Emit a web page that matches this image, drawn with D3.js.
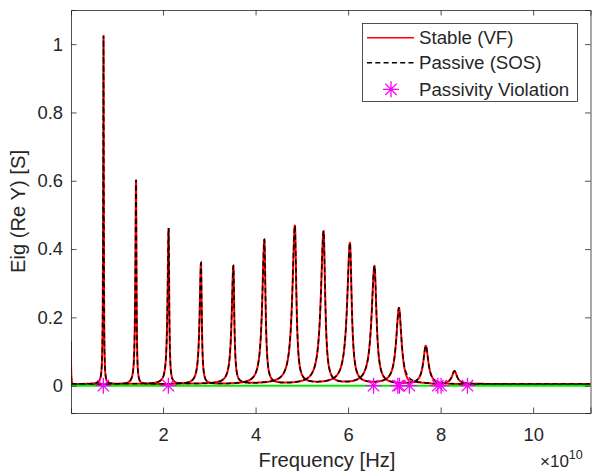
<!DOCTYPE html>
<html><head><meta charset="utf-8">
<script src="https://cdn.jsdelivr.net/npm/d3@7"></script>
<style>
body{margin:0;background:#fff}
svg{display:block}
text{font-family:"Liberation Sans",Arial,Helvetica,sans-serif;fill:#262626}
</style>
</head><body>
<svg id="chart" width="594" height="472"></svg>
<script>
// ---------------- data ----------------
const xTickValues = [2e10, 4e10, 6e10, 8e10, 10e10];
const xTickLabels = ["2", "4", "6", "8", "10"];
const yTickValues = [0, 0.2, 0.4, 0.6, 0.8, 1];
const yTickLabels = ["0", "0.2", "0.4", "0.6", "0.8", "1"];

// resonance peaks of the eigenvalues (frequency in units of 1e10 Hz)
const peakFreq       = [0.005, 0.713, 1.416, 2.12, 2.82, 3.52, 4.19, 4.85, 5.47, 6.04, 6.57, 7.10, 7.68, 8.30];
const peakHeight     = [0.13, 1.025, 0.602, 0.461, 0.358, 0.349, 0.426, 0.467, 0.451, 0.417, 0.35, 0.227, 0.116, 0.042];
const peakWidthLeft  = [0.01, 0.009, 0.017, 0.026, 0.035, 0.043, 0.054, 0.065, 0.069, 0.071, 0.074, 0.071, 0.065, 0.065];
const peakWidthRight = [0.006, 0.007, 0.011, 0.015, 0.02, 0.024, 0.03, 0.037, 0.041, 0.045, 0.052, 0.065, 0.065, 0.065];
const peakEig        = [1, 0, 1, 0, 1, 0, 1, 0, 1, 0, 1, 0, 1, 0];
const eigBase        = [0.0045, 0.0035];

// small negative excursions of the stable (VF) model
const dipFreq  = [7.30, 7.95];
const dipDepth = [-0.009, -0.008];
const dipWidth = [0.12, 0.10];

// passivity violation markers
const violFreq  = [0.709, 2.115, 6.55, 7.075, 7.11, 7.325, 7.94, 8.01, 8.58];
const violValue = [0, 0, 0, 0, 0, 0, 0, 0, 0];

const xDomain = [0.01e10, 11.24e10];
const yDomain = [-0.08, 1.1];

// ---------------- layout ----------------
const L = 71, R = 590.5, T = 10, B = 413;
const svg = d3.select("#chart");
const x = d3.scaleLinear().domain(xDomain).range([L, R]);
const y = d3.scaleLinear().domain(yDomain).range([B, T]);

svg.append("defs").append("clipPath").attr("id", "clip")
  .append("rect").attr("x", L).attr("y", T).attr("width", R - L).attr("height", B - T);

// frequency grid: uniform + dense around each peak
let grid = d3.range(0, 6001).map(i => xDomain[0] / 1e10 + (xDomain[1] - xDomain[0]) / 1e10 * i / 6000);
peakFreq.forEach((f, i) => {
  for (let k = -60; k <= 60; k++) {
    const w = k < 0 ? peakWidthLeft[i] : peakWidthRight[i];
    grid.push(f + k * w * 0.15);
  }
});
grid = Array.from(new Set(grid.filter(f => f >= 0).map(f => +f.toFixed(6)))).sort((a, b) => a - b);

function eigValue(e, f, withDips) {
  let v = eigBase[e];
  peakFreq.forEach((f0, i) => {
    if (peakEig[i] !== e) return;
    const g = f < f0 ? peakWidthLeft[i] : peakWidthRight[i];
    const d = (f - f0) / g;
    v += (peakHeight[i] - eigBase[e]) / (1 + d * d);
  });
  if (withDips) {
    dipFreq.forEach((f0, i) => {
      const d = (f - f0) / dipWidth[i];
      v += dipDepth[i] * Math.exp(-d * d);
    });
  }
  return v;
}

const line = d3.line().x(d => x(d[0] * 1e10)).y(d => y(d[1]));
const plot = svg.append("g").attr("clip-path", "url(#clip)");

// stable (VF) – red
[0, 1].forEach(e => {
  plot.append("path")
    .datum(grid.map(f => [f, eigValue(e, f, e === 0)]))
    .attr("d", line).attr("fill", "none")
    .attr("stroke", "#ff0000").attr("stroke-width", 2);
});
// passive (SOS) – black dashed
[0, 1].forEach(e => {
  plot.append("path")
    .datum(grid.map(f => [f, eigValue(e, f, false)]))
    .attr("d", line).attr("fill", "none")
    .attr("stroke", "#000").attr("stroke-width", 1.5)
    .attr("stroke-dasharray", "5,3.3");
});
// zero reference – green
plot.append("path")
  .datum([[xDomain[0] / 1e10, 0], [xDomain[1] / 1e10, 0]])
  .attr("d", line).attr("fill", "none")
  .attr("stroke", "#00ee00").attr("stroke-width", 2);

// violation markers
const star = "M0,-8V8M-8,0H8M-5.7,-5.7L5.7,5.7M-5.7,5.7L5.7,-5.7";
svg.append("g").selectAll("path").data(violFreq).join("path")
  .attr("transform", (d, i) => `translate(${x(d * 1e10)},${y(violValue[i])})`)
  .attr("d", star).attr("fill", "none")
  .attr("stroke", "#ff00ff").attr("stroke-width", 1.3);

// ---------------- axes ----------------
const tickLen = 5.5;
const axisColor = "#262626";
const xAxisB = d3.axisBottom(x).tickValues(xTickValues).tickFormat((d, i) => xTickLabels[i]).tickSize(-tickLen).tickPadding(15);
const xAxisT = d3.axisTop(x).tickValues(xTickValues).tickFormat("").tickSize(-tickLen);
const yAxisL = d3.axisLeft(y).tickValues(yTickValues).tickFormat((d, i) => yTickLabels[i]).tickSize(-tickLen).tickPadding(8);
const yAxisR = d3.axisRight(y).tickValues(yTickValues).tickFormat("").tickSize(-tickLen);

function styleAxis(g) {
  g.select(".domain").attr("stroke", axisColor).attr("stroke-width", 0.8);
  g.selectAll(".tick line").attr("stroke", axisColor).attr("stroke-width", 0.8);
  g.selectAll(".tick text").attr("fill", axisColor).style("font-size", "18.4px")
    .style("font-family", '"Liberation Sans",Arial,Helvetica,sans-serif');
}
svg.append("g").attr("transform", `translate(0,${B})`).call(xAxisB).call(styleAxis);
svg.append("g").attr("transform", `translate(0,${T})`).call(xAxisT).call(styleAxis);
svg.append("g").attr("transform", `translate(${L},0)`).call(yAxisL).call(styleAxis);
svg.append("g").attr("transform", `translate(${R},0)`).call(yAxisR).call(styleAxis);

// axis labels
svg.append("text").attr("x", 327).attr("y", 467).attr("text-anchor", "middle")
  .style("font-size", "20.2px").text("Frequency [Hz]");
svg.append("text").attr("transform", "translate(25,211.5) rotate(-90)").attr("text-anchor", "middle")
  .style("font-size", "20.2px").text("Eig (Re Y) [S]");
const expo = svg.append("text").attr("x", 540).attr("y", 467).style("font-size", "17px");
expo.append("tspan").text("\u00d710");
expo.append("tspan").attr("dy", -8).style("font-size", "12.5px").text("10");

// ---------------- legend ----------------
const lg = svg.append("g");
lg.append("rect").attr("x", 362.5).attr("y", 23.5).attr("width", 215).attr("height", 78)
  .attr("fill", "#fff").attr("stroke", axisColor).attr("stroke-width", 0.8);
const legendNames = ["Stable (VF)", "Passive (SOS)", "Passivity Violation"];
const rowY = [37.7, 62.7, 89.3];
lg.append("line").attr("x1", 367).attr("x2", 414).attr("y1", rowY[0]).attr("y2", rowY[0])
  .attr("stroke", "#ff0000").attr("stroke-width", 1.5);
lg.append("line").attr("x1", 367).attr("x2", 414).attr("y1", rowY[1]).attr("y2", rowY[1])
  .attr("stroke", "#000").attr("stroke-width", 1.5).attr("stroke-dasharray", "5,3.3");
lg.append("path").attr("transform", `translate(391,${rowY[2]})`).attr("d", star)
  .attr("fill", "none").attr("stroke", "#ff00ff").attr("stroke-width", 1.3);
legendNames.forEach((n, i) => {
  lg.append("text").attr("x", 419).attr("y", rowY[i]).attr("dy", "0.35em")
    .style("font-size", "18.7px").text(n);
});
</script>
</body></html>
